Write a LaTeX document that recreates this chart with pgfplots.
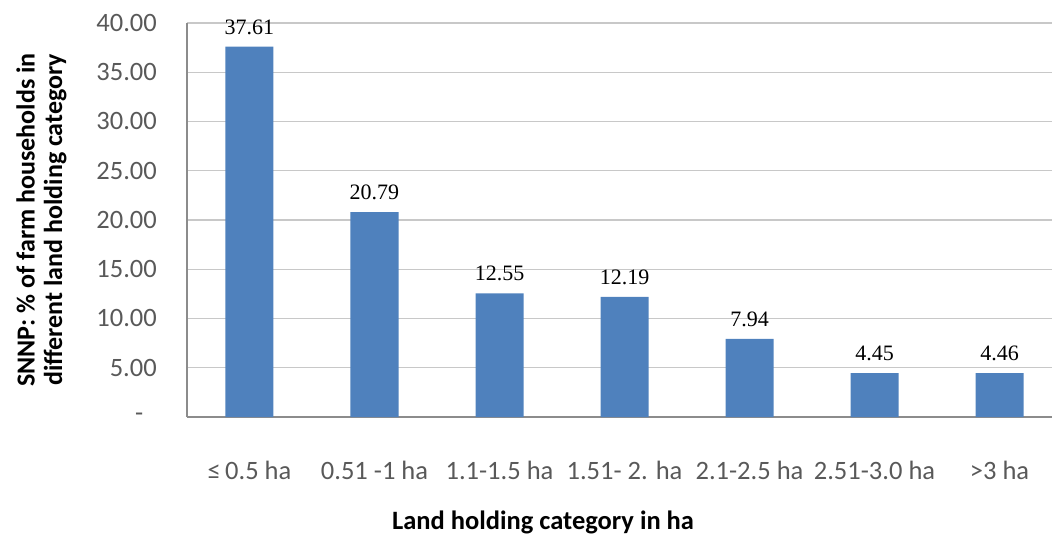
\documentclass[border=0pt]{standalone}
\usepackage{fontspec}
\setmainfont{Carlito}
\newfontfamily\serif{Liberation Serif}
\usepackage{pgfplots}
\pgfplotsset{compat=1.18}
\definecolor{barblue}{HTML}{4F81BD}
\definecolor{ticktext}{HTML}{595959}
\definecolor{gridc}{HTML}{C8C8C8}
\definecolor{axisc}{HTML}{8C8C8C}
\begin{document}
\begin{tikzpicture}
\begin{axis}[
  scale only axis, width=875pt, height=394pt,
  xmin=-0.5, xmax=6.5, ymin=0, ymax=40,
  axis x line*=bottom, axis y line*=left,
  axis line style={axisc, line width=1.2pt},
  ymajorgrids, grid style={gridc, line width=1.2pt},
  major tick length=0pt,
  ytick={0,5,10,15,20,25,30,35,40},
  yticklabels={\makebox[0pt][r]{-\hspace{13pt}},5.00,10.00,15.00,20.00,25.00,30.00,35.00,40.00},
  yticklabel style={font=\fontsize{26.5}{30}\selectfont, text=ticktext, inner sep=0pt, xshift=-30pt},
  xtick={0,1,2,3,4,5,6},
  xticklabels={{≤\,0.5 ha},{0.51 -1 ha},{1.1-1.5 ha},{1.51- 2. ha},{2.1-2.5 ha},{2.51-3.0 ha},{>3 ha}},
  xticklabel style={font=\fontsize{26.5}{30}\selectfont, text=ticktext, inner sep=0pt, anchor=north, yshift=-44pt},
  xlabel={Land holding category in ha},
  xlabel style={font=\fontsize{26.5}{30}\selectfont\bfseries, at={(rel axis cs:0.4069,0)}, anchor=center, yshift=-105pt},
  ylabel={SNNP: \% of farm households in\\different land holding category},
  ylabel style={font=\fontsize{26}{27.5}\selectfont\bfseries, align=center, at={(rel axis cs:-0.1663,0.5)}, anchor=center},
  ybar, bar width=48pt,
  nodes near coords={\serif\pgfmathprintnumber[assume math mode=true, fixed, precision=2, zerofill]{\pgfplotspointmeta}},
  every node near coord/.append style={font=\fontsize{22}{24}\selectfont, text=black, anchor=south, inner sep=0pt, yshift=12pt},
]
\addplot[fill=barblue, draw=none] coordinates {(0,37.61) (1,20.79) (2,12.55) (3,12.19) (4,7.94) (5,4.45) (6,4.46)};
\end{axis}
\pgfresetboundingbox
\path (-187pt,-118pt) rectangle (865pt,417pt);
\end{tikzpicture}
\end{document}
